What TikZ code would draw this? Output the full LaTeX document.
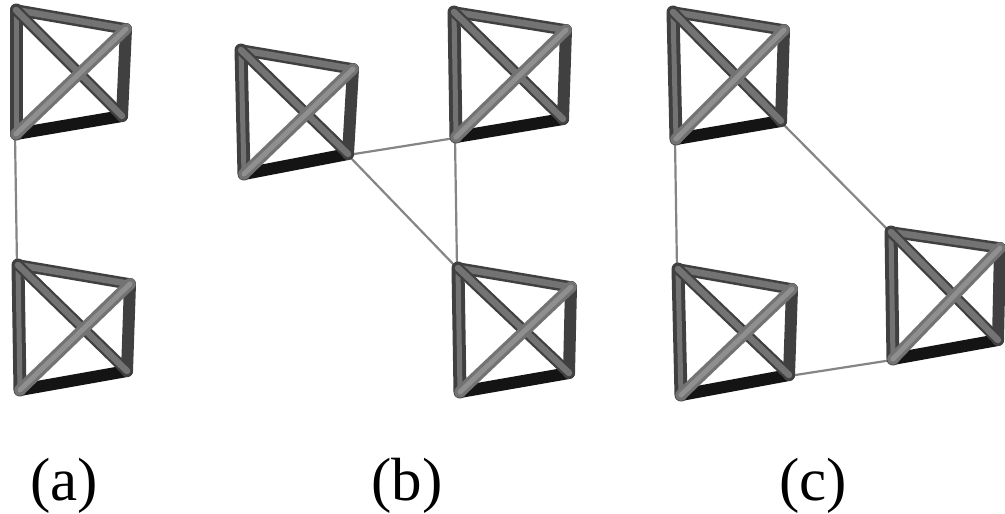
\documentclass[tikz,border=0pt]{standalone}
\usepackage{fontspec}
\setmainfont{Liberation Serif}
\tikzset{
  x=1pt,y=-1pt,
  link/.style={line width=2.2pt,color=black!48},
  lbl/.style={font=\fontsize{61}{64}\selectfont,inner sep=0pt,text=black,anchor=base}
}
\definecolor{barmid}{gray}{0.45}
\definecolor{bardark}{gray}{0.25}
\definecolor{barlite}{gray}{0.56}
\definecolor{barblack}{gray}{0.08}
\newcommand{\tube}[4]{%
  \draw[line width=#3pt,color=#4,line cap=round] (#1) -- (#2);}
\newcommand{\cell}[9]{%
  \coordinate (#1tl) at (#2,#3);
  \coordinate (#1tr) at (#4,#5);
  \coordinate (#1br) at (#6,#7);
  \coordinate (#1bl) at (#8,#9);
  \tube{#1bl}{#1br}{12}{barblack}
  \tube{#1tr}{#1br}{12}{bardark}
  \tube{#1tl}{#1bl}{13}{bardark}
  \tube{#1tl}{#1bl}{5}{barmid}
  \tube{#1tl}{#1tr}{11.5}{bardark}
  \tube{#1tl}{#1tr}{6.5}{barmid}
  \tube{#1tl}{#1br}{11}{bardark}
  \tube{#1tl}{#1br}{6.5}{barmid}
  \tube{#1bl}{#1tr}{11.5}{barmid}
  \tube{#1bl}{#1tr}{5}{barlite}
}
\begin{document}
\begin{tikzpicture}
\useasboundingbox (0,0) rectangle (1005,514);
\fill[white] (0,0) rectangle (1005,514);
\coordinate (a1c) at (15,136); \coordinate (a2c) at (17,265);
\coordinate (b1c) at (348,155); \coordinate (b2c) at (455,138); \coordinate (b3c) at (457,268);
\coordinate (c1c) at (675,140); \coordinate (c1d) at (781,122);
\coordinate (c2c) at (677,269); \coordinate (c2d) at (789,376);
\coordinate (c3c) at (890,232); \coordinate (c3d) at (892,360);
\draw[link] (a1c) -- (a2c);
\draw[link] (b1c) -- (b2c);
\draw[link] (b1c) -- (b3c);
\draw[link] (b2c) -- (b3c);
\draw[link] (c1c) -- (c2c);
\draw[link] (c1d) -- (c3c);
\draw[link] (c2d) -- (c3d);
\cell{aa}{16}{10}{126}{29}{122}{116}{16}{134}
\cell{ab}{18}{265}{130}{284}{127}{371}{20}{390}
\cell{ba}{241}{50}{353}{69}{348}{154}{244}{174}
\cell{bb}{454}{12}{566}{30}{563}{119}{456}{137}
\cell{bc}{458}{268}{571}{287}{569}{373}{460}{392}
\cell{ca}{673}{12}{784}{30}{781}{121}{676}{139}
\cell{cb}{678}{269}{792}{289}{789}{375}{681}{395}
\cell{cc}{891}{232}{1000}{248}{998}{340}{893}{359}
\node[lbl] (la) at (64,500) {(a)};
\node[lbl] (lb) at (407,500) {(b)};
\node[lbl] (lc) at (813,500) {(c)};
\end{tikzpicture}
\end{document}
